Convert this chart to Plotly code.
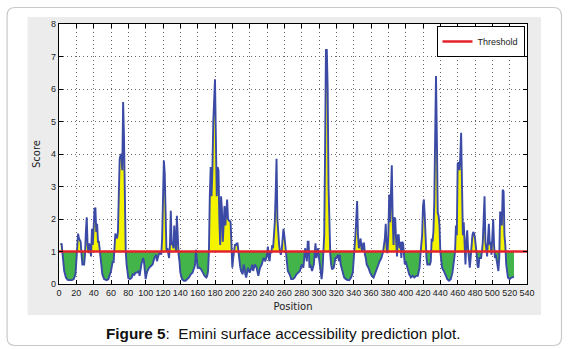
import numpy as np
import plotly.graph_objects as go

# Emini surface accessibility score (position, score)
positions = [2, 3, 4, 5, 6, 8, 10, 12, 15, 17, 19, 20, 21, 22, 23, 24, 25, 26, 27, 29, 30, 31, 32, 33, 34, 35, 36, 37, 38, 39,
             40, 41, 42, 43, 44, 45, 46, 47, 48, 49, 50, 52, 55, 57, 59, 60, 61, 62, 63, 64, 65, 66, 67, 68, 69, 70, 71, 72, 73, 74,
             75, 76, 77, 78, 79, 80, 82, 84, 85, 87, 88, 90, 92, 93, 95, 96, 97, 98, 99, 100, 101, 102, 104, 106, 108, 110, 112, 113, 115, 117,
             118, 119, 120, 121, 122, 123, 124, 125, 126, 127, 128, 129, 130, 131, 132, 133, 134, 135, 136, 137, 138, 139, 140, 142, 144, 146, 148, 150, 152, 154,
             156, 157, 158, 159, 160, 162, 164, 166, 168, 170, 171, 172, 173, 174, 175, 176, 177, 178, 179, 180, 181, 182, 183, 184, 185, 186, 187, 188, 189, 190,
             191, 192, 193, 194, 195, 196, 197, 198, 199, 200, 201, 202, 203, 204, 205, 206, 207, 208, 209, 210, 212, 213, 214, 215, 216, 218, 220, 222, 223, 224,
             226, 228, 229, 230, 232, 234, 236, 238, 240, 241, 242, 243, 244, 245, 246, 247, 248, 249, 250, 251, 252, 253, 254, 255, 256, 257, 258, 259, 260, 261,
             262, 263, 264, 266, 268, 270, 272, 274, 276, 278, 280, 282, 283, 284, 285, 286, 287, 288, 289, 290, 291, 292, 294, 296, 297, 299, 300, 302, 303, 304,
             305, 306, 307, 308, 309, 310, 311, 312, 313, 314, 315, 317, 319, 320, 322, 323, 324, 325, 327, 329, 331, 333, 335, 337, 339, 341, 342, 343, 344, 345,
             346, 347, 348, 349, 350, 351, 352, 353, 354, 355, 357, 359, 361, 363, 365, 367, 369, 370, 372, 374, 376, 377, 378, 379, 380, 381, 382, 383, 384, 385,
             386, 387, 388, 389, 390, 391, 392, 393, 394, 395, 396, 397, 398, 399, 400, 402, 404, 406, 408, 410, 412, 414, 416, 417, 418, 419, 420, 421, 422, 423,
             424, 425, 428, 429, 430, 431, 432, 433, 434, 435, 436, 437, 438, 439, 440, 441, 442, 444, 446, 448, 450, 452, 454, 456, 457, 458, 459, 460, 461, 462,
             463, 464, 465, 466, 467, 468, 469, 470, 471, 472, 473, 474, 475, 476, 477, 478, 479, 480, 481, 482, 483, 484, 485, 487, 488, 489, 490, 491, 492, 493,
             494, 495, 496, 497, 498, 499, 500, 501, 502, 503, 504, 505, 506, 507, 508, 509, 510, 511, 512, 513, 514, 515, 516, 517, 518, 520, 522, 525]
scores = [1.20, 1.25, 0.95, 0.65, 0.40, 0.20, 0.13, 0.12, 0.12, 0.15, 0.30, 0.70, 1.20, 1.55, 1.40, 1.35, 1.30, 0.90, 0.60, 0.60, 0.90, 1.60, 2.05, 1.20, 0.95, 1.25, 1.10, 0.85, 1.70, 1.20,
          1.75, 2.30, 2.35, 1.60, 1.85, 1.30, 1.30, 1.00, 0.70, 0.45, 0.30, 0.15, 0.12, 0.15, 0.30, 0.40, 0.55, 0.70, 0.65, 1.00, 1.55, 1.50, 1.40, 1.60, 2.50, 3.85, 3.95, 4.00, 3.50, 5.60,
          4.50, 2.50, 1.00, 0.60, 0.30, 0.18, 0.15, 0.20, 0.30, 0.28, 0.35, 0.35, 0.40, 0.25, 0.60, 0.70, 0.80, 0.70, 0.40, 0.15, 0.30, 0.40, 0.50, 0.55, 0.60, 0.80, 0.90, 0.70, 0.90, 1.00,
          0.90, 1.40, 2.50, 3.80, 3.40, 1.30, 1.00, 1.10, 0.95, 0.80, 1.20, 2.25, 1.20, 1.30, 1.10, 1.80, 1.25, 1.00, 2.10, 1.30, 0.90, 0.70, 0.35, 0.15, 0.10, 0.10, 0.15, 0.20, 0.30, 0.35,
          0.50, 0.60, 1.05, 0.70, 0.50, 0.50, 0.45, 0.35, 0.25, 0.20, 0.25, 0.40, 1.00, 2.70, 3.60, 2.70, 3.50, 5.00, 6.10, 6.30, 4.50, 2.70, 3.60, 3.50, 2.00, 1.20, 2.70, 2.30, 1.30, 1.80,
          2.40, 1.80, 2.30, 2.60, 2.00, 1.95, 1.95, 1.90, 1.20, 0.50, 0.80, 1.10, 1.20, 1.20, 1.25, 1.25, 1.00, 0.60, 0.55, 0.40, 0.30, 0.60, 0.50, 0.30, 0.20, 0.50, 0.35, 0.50, 0.60, 0.40,
          0.60, 0.50, 0.30, 0.25, 0.50, 0.60, 0.80, 0.70, 0.90, 1.15, 0.80, 0.70, 1.00, 0.95, 1.20, 1.10, 1.50, 1.90, 2.80, 3.85, 2.00, 1.50, 1.20, 1.00, 0.90, 1.05, 1.40, 1.70, 1.50, 1.20,
          0.90, 0.50, 0.40, 0.30, 0.15, 0.15, 0.20, 0.30, 0.35, 0.40, 0.60, 0.50, 0.80, 1.10, 0.90, 0.70, 1.30, 1.30, 0.50, 0.60, 0.50, 0.40, 0.60, 1.25, 0.80, 1.10, 0.80, 0.30, 0.15, 0.40,
          0.90, 1.50, 4.00, 7.20, 7.20, 6.00, 3.00, 1.30, 0.90, 0.60, 0.45, 0.50, 0.80, 0.80, 0.90, 0.70, 0.90, 0.60, 0.40, 0.20, 0.15, 0.12, 0.12, 0.20, 0.35, 1.00, 1.50, 2.00, 2.55, 1.50,
          1.10, 1.25, 1.40, 1.10, 1.00, 1.25, 1.25, 0.90, 0.80, 0.60, 0.50, 0.35, 0.25, 0.20, 0.35, 0.50, 0.60, 0.70, 0.80, 1.00, 1.40, 1.85, 1.10, 0.95, 1.50, 2.75, 1.90, 3.00, 3.65, 2.00,
          1.20, 2.05, 2.00, 1.30, 0.85, 1.50, 1.50, 1.10, 1.30, 0.80, 1.30, 1.25, 0.80, 0.60, 0.70, 0.50, 0.30, 0.20, 0.25, 0.20, 0.25, 0.25, 0.50, 0.90, 1.20, 1.50, 2.40, 2.60, 2.10, 1.20,
          0.80, 0.60, 0.60, 0.70, 1.40, 1.30, 1.60, 2.50, 4.00, 6.40, 4.50, 2.20, 2.10, 1.80, 1.00, 0.60, 0.50, 0.40, 0.25, 0.15, 0.10, 0.15, 0.35, 0.70, 1.00, 1.80, 1.50, 3.70, 3.75, 3.50,
          3.90, 4.65, 2.80, 1.50, 1.90, 1.10, 0.60, 1.30, 1.65, 1.10, 0.70, 0.50, 0.80, 1.40, 1.50, 1.60, 1.55, 1.40, 1.20, 0.90, 0.55, 0.50, 0.80, 0.80, 1.00, 1.30, 2.00, 2.70, 1.30, 1.10,
          0.85, 1.40, 1.85, 1.20, 1.30, 0.90, 1.40, 2.00, 1.20, 0.80, 0.90, 0.70, 0.50, 0.40, 0.80, 2.20, 2.20, 1.80, 2.90, 2.85, 1.50, 1.20, 0.60, 0.35, 0.20, 0.15, 0.20, 0.22]

threshold = 1.0
x_ticks = list(range(0, 541, 20))
y_ticks = list(range(0, 9))

pos = np.array(positions, dtype=float)
sc = np.array(scores, dtype=float)
thr = np.full_like(pos, threshold)
upper = np.maximum(sc, threshold)
lower = np.minimum(sc, threshold)

fig = go.Figure()
# yellow: above threshold
fig.add_trace(go.Scatter(x=pos, y=thr, mode="lines", line=dict(width=0), showlegend=False, hoverinfo="skip"))
fig.add_trace(go.Scatter(x=pos, y=upper, mode="lines", line=dict(width=0), fill="tonexty",
                         fillcolor="#f4f400", showlegend=False, hoverinfo="skip"))
# green: below threshold
fig.add_trace(go.Scatter(x=pos, y=thr, mode="lines", line=dict(width=0), showlegend=False, hoverinfo="skip"))
fig.add_trace(go.Scatter(x=pos, y=lower, mode="lines", line=dict(width=0), fill="tonexty",
                         fillcolor="#42b44a", showlegend=False, hoverinfo="skip"))
# score line
fig.add_trace(go.Scatter(x=pos, y=sc, mode="lines", line=dict(color="#3a4aa5", width=1.9), showlegend=False))
# threshold
fig.add_trace(go.Scatter(x=[0, 540], y=[threshold, threshold], mode="lines",
                         line=dict(color="#e3232b", width=2.5), name="Threshold"))

L, R, T, B = 58.5, 527.0, 24.0, 284.0
W, H = 568, 349
pw, ph = R - L, B - T

def px(xp):
    return (xp - L) / pw

def py(yp):
    return (B - yp) / ph

axis_common = dict(showline=True, linecolor="black", linewidth=1.3, mirror="ticks",
                   ticks="inside", ticklen=4, tickcolor="black",
                   showgrid=True, gridcolor="#666666", griddash="1px,3px", gridwidth=1,
                   zeroline=False, tickfont=dict(family="Liberation Sans, Arial", size=9, color="#222"))

fig.update_xaxes(range=[0, 540], tickvals=x_ticks, ticktext=[str(v) for v in x_ticks],
                 title=dict(text="Position", font=dict(family="DejaVu Sans", size=10, color="#222"), standoff=6),
                 **axis_common)
fig.update_yaxes(range=[0, 8], tickvals=y_ticks, ticktext=[str(v) for v in y_ticks],
                 title=dict(text="Score", font=dict(family="DejaVu Sans", size=10, color="#222"), standoff=8),
                 **axis_common)

shapes = []
# outer rounded border
r = 8
x0, x1, y0, y1 = 6.5, 561.5, 7.5, 345.5
def P(xp, yp):
    return f"{px(xp):.5f},{py(yp):.5f}"
path = (f"M{P(x0 + r, y0)} L{P(x1 - r, y0)} Q{P(x1, y0)} {P(x1, y0 + r)} "
        f"L{P(x1, y1 - r)} Q{P(x1, y1)} {P(x1 - r, y1)} L{P(x0 + r, y1)} "
        f"Q{P(x0, y1)} {P(x0, y1 - r)} L{P(x0, y0 + r)} Q{P(x0, y0)} {P(x0 + r, y0)} Z")
shapes.append(dict(type="path", xref="paper", yref="paper", path=path,
                   line=dict(color="#c9c9c9", width=1.2), fillcolor="rgba(0,0,0,0)", layer="below"))
# gray panel
shapes.append(dict(type="rect", xref="paper", yref="paper", x0=px(27), x1=px(541), y0=py(315), y1=py(17),
                   line=dict(width=0), fillcolor="#ececec", layer="below"))
# white plot area
shapes.append(dict(type="rect", xref="paper", yref="paper", x0=0, x1=1, y0=0, y1=1,
                   line=dict(width=0), fillcolor="white", layer="below"))

fig.update_layout(
    width=W, height=H,
    margin=dict(l=L, r=W - R, t=T, b=H - B, autoexpand=False),
    paper_bgcolor="white", plot_bgcolor="rgba(0,0,0,0)",
    shapes=shapes,
    showlegend=True,
    legend=dict(x=px(524.5), y=py(26), xanchor="right", yanchor="top",
                bgcolor="white", bordercolor="black", borderwidth=1,
                font=dict(family="Liberation Sans, Arial", size=9, color="#222"),
                itemwidth=30, tracegroupgap=0),
    annotations=[dict(xref="paper", yref="paper", x=px(283), y=py(333), xanchor="center", yanchor="middle",
                      text="<b>Figure 5</b>:  Emini surface accessibility prediction plot.", showarrow=False,
                      font=dict(family="Liberation Sans, Arial", size=15.3, color="#111"))],
)

fig.write_html("out.html", config={"displayModeBar": False},
               post_script="document.body.style.margin='0';document.body.style.overflow='hidden';")
